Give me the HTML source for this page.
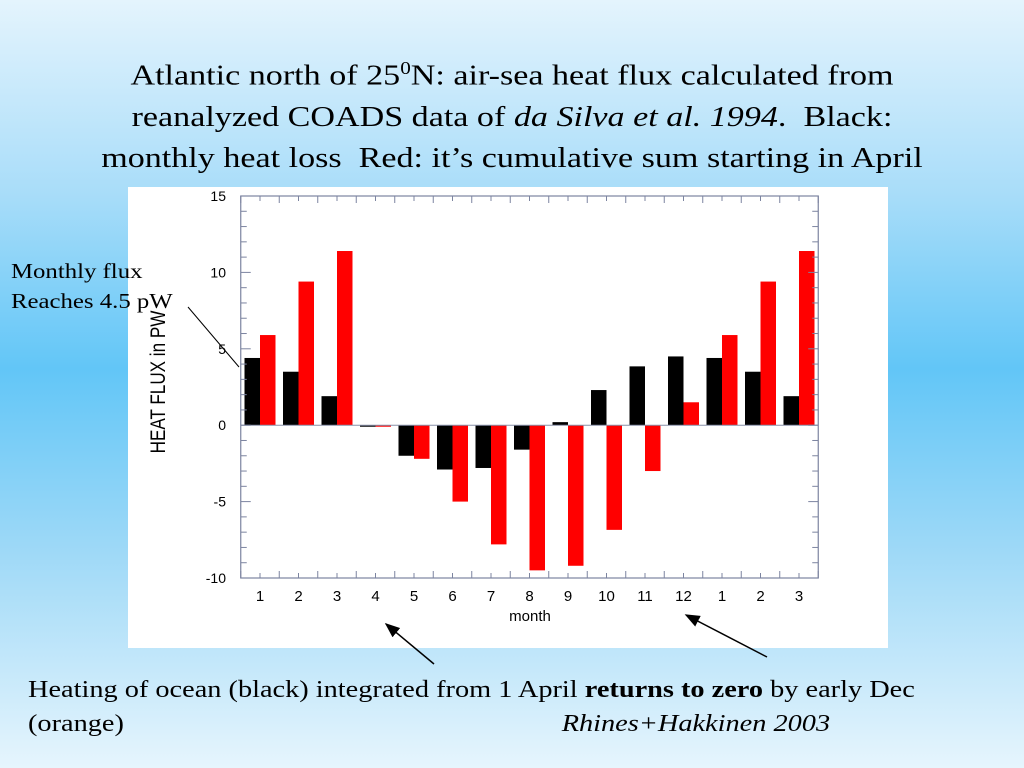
<!DOCTYPE html>
<html><head><meta charset="utf-8"><style>
body{margin:0;width:1024px;height:768px;overflow:hidden;background:linear-gradient(to bottom,#e4f4fd 0%,#a9ddf9 25%,#62c6f7 48%,#9fd9f7 72%,#e6f5fd 100%);font-family:"Liberation Serif",serif;position:relative}
.t{position:absolute;color:#000;white-space:nowrap;z-index:2}
</style></head><body>
<div class="t" style="left:0;width:1024px;top:48px;text-align:center;font-size:29px;line-height:41px;transform:scaleX(1.175);transform-origin:512px 0">Atlantic north of 25<sup style="font-size:18px">0</sup>N: air-sea heat flux calculated from<br>reanalyzed COADS data of <i>da Silva et al. 1994</i>.&nbsp; Black:<br>monthly heat loss&nbsp; Red: it’s cumulative sum starting in April</div>
<div class="t" style="left:11px;top:256px;font-size:21px;line-height:30px;transform:scaleX(1.18);transform-origin:0 0">Monthly flux<br>Reaches 4.5 pW</div>
<div class="t" style="left:28px;top:673px;font-size:24px;line-height:34px;transform:scaleX(1.18);transform-origin:0 0">Heating of ocean (black) integrated from 1 April <b>returns to zero</b> by early Dec<br>(orange)<span style="display:inline-block;width:371px"></span><i>Rhines+Hakkinen 2003</i></div>
<svg id="c" width="1024" height="768" style="position:absolute;left:0;top:0;z-index:1"></svg>
<script>
const months=["1","2","3","4","5","6","7","8","9","10","11","12","1","2","3"];
const monthlyFlux=[4.4,3.5,1.9,-0.1,-2.0,-2.9,-2.8,-1.6,0.2,2.3,3.85,4.5,4.4,3.5,1.9];
const cumulativeFlux=[5.9,9.4,11.4,-0.1,-2.2,-5.0,-7.8,-9.5,-9.2,-6.85,-3.0,1.5,5.9,9.4,11.4];
const yTicks=[15,10,5,0,-5,-10];
const NS="http://www.w3.org/2000/svg",svg=document.getElementById('c');
function mk(t,a,p){const e=document.createElementNS(NS,t);for(const k in a)e.setAttribute(k,a[k]);(p||svg).appendChild(e);return e;}
const L=240.75,R=818.25,T=196,B=578,ymin=-10,ymax=15;
const y=v=>B-(v-ymin)/(ymax-ymin)*(B-T);
const x=i=>L+(i+0.5)*(R-L)/months.length;
const bw=15.5;
let r=mk('rect',{x:128,y:187,width:760,height:461,fill:'#fff'});


monthlyFlux.forEach((v,i)=>{const b=mk('rect',{x:x(i)-bw,y:Math.min(y(v),y(0)),width:bw,height:Math.abs(y(v)-y(0)),fill:'#000'});

});
cumulativeFlux.forEach((v,i)=>{const b=mk('rect',{x:x(i),y:Math.min(y(v),y(0)),width:bw,height:Math.abs(y(v)-y(0)),fill:'#f00'});

});
mk('line',{x1:L,x2:R,y1:y(0),y2:y(0),stroke:'#8890a8','stroke-width':1});
const f=mk('rect',{x:L,y:T,width:R-L,height:B-T,fill:'none',stroke:'#7c84a0','stroke-width':1.2});


for(let v=ymin;v<=ymax;v++){const len=v%5===0?10:6;mk('line',{x1:L,x2:L+len,y1:y(v),y2:y(v),stroke:'#7c84a0'});mk('line',{x1:R,x2:R-len,y1:y(v),y2:y(v),stroke:'#7c84a0'});}
for(let k=0;k<=months.length*2;k++){const xx=L+k*(R-L)/(months.length*2);const len=k%2?5:7;mk('line',{x1:xx,x2:xx,y1:B,y2:B-len,stroke:'#7c84a0'});mk('line',{x1:xx,x2:xx,y1:T,y2:T+len,stroke:'#7c84a0'});}
yTicks.forEach(v=>{const t=mk('text',{x:226,y:y(v)+5,'text-anchor':'end','font-family':'Liberation Sans,sans-serif','font-size':14});t.textContent=v;

});
months.forEach((m,i)=>{const t=mk('text',{x:x(i),y:601,'text-anchor':'middle','font-family':'Liberation Sans,sans-serif','font-size':15});t.textContent=m;

});
let xt=mk('text',{x:530,y:621,'text-anchor':'middle','font-family':'Liberation Sans,sans-serif','font-size':15});xt.textContent='month';


let yt=mk('text',{x:0,y:0,transform:'translate(165,382) rotate(-90) scale(0.95,1.2)','text-anchor':'middle','font-family':'Liberation Sans,sans-serif','font-size':18});yt.textContent='HEAT FLUX in PW';


mk('line',{x1:188,y1:307,x2:239,y2:367,stroke:'#000','stroke-width':1});
const defs=mk('defs',{});const mkr=mk('marker',{id:'ah',markerWidth:10,markerHeight:8,refX:9,refY:4,orient:'auto'},defs);mk('path',{d:'M0,0 L10,4 L0,8 z',fill:'#000'},mkr);
mk('line',{x1:434,y1:664,x2:386,y2:624,stroke:'#000','stroke-width':1.5,'marker-end':'url(#ah)'});
mk('line',{x1:767,y1:657,x2:686,y2:615,stroke:'#000','stroke-width':1.5,'marker-end':'url(#ah)'});
</script>
</body></html>
